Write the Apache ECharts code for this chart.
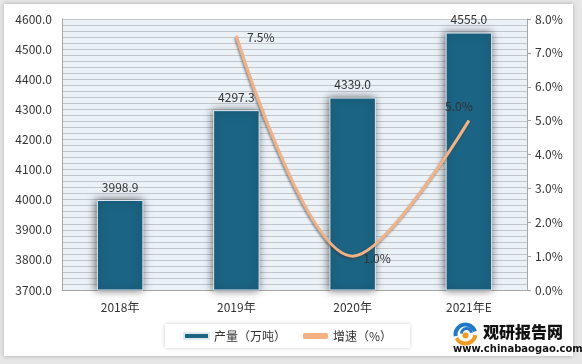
<!DOCTYPE html>
<html><head><meta charset="utf-8">
<script src="https://cdn.jsdelivr.net/npm/echarts@6/dist/echarts.min.js"></script>
<style>html,body{margin:0;padding:0;background:#e6e6e6;}#c{width:582px;height:364px;}</style>
</head><body><div id="c"></div>
<script>
const categories = ['2018年', '2019年', '2020年', '2021年E'];
const production = [3998.9, 4297.3, 4339.0, 4555.0];
const growth = [null, 7.5, 1.0, 5.0];
const leftTicks = {min: 3700, max: 4600, interval: 100};
const rightTicks = {min: 0, max: 8, interval: 1};

const growthLabelStyle = [
  {},
  {position: 'right', distance: 10, offset: [0, 1]},
  {position: 'right', distance: 10, offset: [0, 2]},
  {position: 'top', distance: 8, offset: [-10, 0]}
];

const font = "'Noto Sans CJK SC', 'Noto Sans', sans-serif";
const chart = echarts.init(document.getElementById('c'));
chart.setOption({
  backgroundColor: '#e6e6e6',
  animation: false,
  textStyle: {fontFamily: font},
  graphic: [
    {type: 'rect', z: -10, shape: {x: 4, y: 4, width: 569, height: 352},
     style: {fill: '#ffffff', shadowBlur: 4, shadowColor: 'rgba(0,0,0,0.25)'}},
    {type: 'group', left: 453, top: 322, children: [
      {type: 'arc', shape: {cx: 13, cy: 13, r: 10, startAngle: Math.PI * 0.95, endAngle: Math.PI * 1.9},
       style: {stroke: '#1f78c8', lineWidth: 4, fill: null}},
      {type: 'arc', shape: {cx: 14, cy: 12, r: 5, startAngle: Math.PI * 1.0, endAngle: Math.PI * 1.95},
       style: {stroke: '#1f78c8', lineWidth: 3, fill: null}},
      {type: 'arc', shape: {cx: 13, cy: 12, r: 10, startAngle: Math.PI * 0.05, endAngle: Math.PI * 0.85},
       style: {stroke: '#f39a1e', lineWidth: 4, fill: null}},
      {type: 'circle', shape: {cx: 13, cy: 14, r: 3}, style: {fill: '#f39a1e'}}
    ]},
    {type: 'text', left: 483, top: 324,
     style: {text: '观研报告网', font: "900 16px 'Noto Sans CJK SC'", fill: '#111'}},
    {type: 'text', left: 453, top: 344,
     style: {text: 'www.chinabaogao.com', font: "bold 10px 'DejaVu Sans', sans-serif", fill: '#111'}}
  ],
  grid: {left: 62, right: 55, top: 19, bottom: 74, show: true, backgroundColor: '#eaf1f7', borderWidth: 0},
  legend: {
    left: 165, top: 324, itemWidth: 25, itemHeight: 6, itemGap: 17,
    padding: [6, 18, 6, 18], backgroundColor: '#ffffff',
    shadowBlur: 4, shadowColor: 'rgba(0,0,0,0.2)',
    textStyle: {fontSize: 12, color: '#333', fontFamily: font},
    data: [{name: '产量（万吨）', icon: 'rect'}, {name: '增速（%）', icon: 'roundRect'}]
  },
  xAxis: {
    type: 'category', data: categories,
    axisLine: {lineStyle: {color: '#a6a6a6', width: 1}},
    axisTick: {show: false},
    axisLabel: {color: '#333', fontSize: 12, margin: 11}
  },
  yAxis: [
    {type: 'value', min: leftTicks.min, max: leftTicks.max, interval: leftTicks.interval,
     axisLine: {show: true, lineStyle: {color: '#a6a6a6'}}, axisTick: {show: false},
     axisLabel: {color: '#333', fontSize: 12, margin: 10, formatter: v => v.toFixed(1)},
     splitLine: {show: true, lineStyle: {color: '#c3c7cc', width: 1}},
     minorTick: {show: false, splitNumber: 5},
     minorSplitLine: {show: true, lineStyle: {color: '#c3c7cc', width: 1}}},
    {type: 'value', min: rightTicks.min, max: rightTicks.max, interval: rightTicks.interval,
     position: 'right',
     axisLine: {show: true, lineStyle: {color: '#a6a6a6'}},
     axisTick: {show: true, length: 4, inside: false, lineStyle: {color: '#a6a6a6'}},
     axisLabel: {color: '#333', fontSize: 12, margin: 8, formatter: v => v.toFixed(1) + '%'},
     splitLine: {show: false}}
  ],
  series: [
    {name: '产量（万吨）', type: 'bar', data: production, barWidth: '40%',
     itemStyle: {color: '#1b6484', borderColor: '#dfe8ef', borderWidth: 1,
       shadowBlur: 8, shadowOffsetX: -1, shadowColor: 'rgba(0,0,0,0.55)'},
     label: {show: true, position: 'top', distance: 7, color: '#333', fontSize: 12,
       formatter: p => p.value.toFixed(1)}},
    {name: '增速（%）', type: 'line', yAxisIndex: 1, smooth: 0.35,
     symbol: 'circle', symbolSize: 1, showSymbol: true, z: 5,
     data: growth.map((v, i) => ({value: v, label: growthLabelStyle[i]})),
     itemStyle: {color: '#f4b183'},
     lineStyle: {color: '#f4b183', width: 3, shadowColor: 'rgba(60,60,60,0.5)',
       shadowBlur: 2, shadowOffsetX: -1, shadowOffsetY: 2},
     label: {show: true, color: '#333', fontSize: 12, formatter: p => p.value.toFixed(1) + '%'}}
  ]
});
</script>
</body></html>
